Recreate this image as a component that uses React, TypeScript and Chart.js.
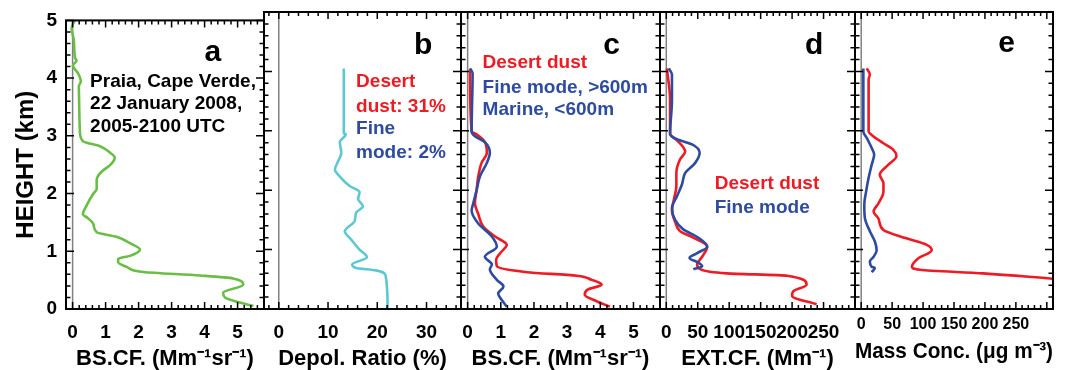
import React, { useEffect, useRef } from 'react';
import { Chart, registerables } from 'chart.js';

Chart.register(...registerables);

const W = 1067;
const H = 370;
const TOP = 12;
const BOTTOM = 309;
const FONT = '"Liberation Sans", Arial, Helvetica, sans-serif';

const RED = '#ed1c24';
const BLUE = '#2e4ba0';
const GREEN = '#6abe45';
const CYAN = '#5ec8d2';

// ---------- data ----------
// heights (km) and values, read top to bottom
const heightTicks = [0, 1, 2, 3, 4, 5];

// panel a: backscatter coefficient (Mm-1 sr-1)
const aHeight = [5.0, 4.87, 4.64, 4.36, 4.3, 4.22, 4.08, 3.94, 3.86, 3.52, 3.08, 2.91, 2.82, 2.71, 2.62, 2.52, 2.35, 2.24, 2.08, 2.0, 1.8, 1.64, 1.58, 1.47, 1.33, 1.25, 1.14, 1.03, 0.92, 0.87, 0.81, 0.73, 0.64, 0.58, 0.53, 0.42, 0.28, 0.2, 0.05];
const aBackscatter = [0.07, -0.03, 0.04, 0.07, 0.12, 0.01, 0.17, 0.25, 0.19, 0.2, 0.22, 0.31, 0.83, 1.13, 1.28, 1.18, 0.83, 0.73, 0.73, 0.63, 0.43, 0.31, 0.45, 0.63, 0.73, 1.33, 1.74, 2.04, 1.74, 1.38, 1.38, 1.64, 2.14, 3.86, 4.86, 5.17, 4.56, 4.62, 5.48];
const aTicks = [0, 1, 2, 3, 4, 5];

// panel b: depolarization ratio (%)
const bHeight = [4.05, 2.96, 2.94, 2.81, 2.63, 2.46, 2.35, 2.23, 2.07, 1.97, 1.85, 1.73, 1.62, 1.48, 1.31, 1.17, 1.0, 0.87, 0.75, 0.69, 0.65, 0.56, 0.02];
const bDepol = [13.2, 13.2, 13.6, 12.4, 12.7, 11.9, 11.4, 12.4, 14.4, 16.4, 16.1, 17.1, 15.7, 15.4, 13.4, 14.7, 16.4, 17.9, 14.9, 15.7, 19.7, 21.7, 22.1];
const bTicks = [0, 10, 20, 30];

// panel c: backscatter split
const cDustHeight = [4.03, 2.99, 2.94, 2.81, 2.63, 2.46, 2.23, 2.0, 1.78, 1.6, 1.39, 1.22, 1.08, 0.94, 0.83, 0.72, 0.62, 0.56, 0.49, 0.41, 0.33, 0.24, 0.13, 0.04];
const cDust = [0.07, 0.12, 0.27, 0.52, 0.58, 0.42, 0.32, 0.27, 0.22, 0.32, 0.47, 0.83, 1.18, 0.98, 0.86, 0.88, 1.78, 3.29, 3.74, 4.04, 3.63, 3.53, 3.89, 4.29];
const cFineHeight = [4.05, 3.97, 2.99, 2.91, 2.81, 2.63, 2.46, 2.23, 2.0, 1.78, 1.66, 1.44, 1.22, 1.05, 0.88, 0.75, 0.67, 0.49, 0.38, 0.26, 0.15, 0.04];
const cFine = [0.07, 0.15, 0.12, 0.22, 0.52, 0.67, 0.58, 0.37, 0.27, 0.17, 0.12, 0.32, 0.73, 0.88, 0.52, 0.73, 0.67, 0.88, 1.08, 0.92, 1.03, 1.18];
const cTicks = [0, 1, 2, 3, 4, 5];

// panel d: extinction coefficient (Mm-1)
const dDustHeight = [4.05, 3.52, 2.95, 2.84, 2.65, 2.52, 2.29, 2.07, 1.84, 1.66, 1.47, 1.31, 1.2, 1.05, 0.88, 0.75, 0.67, 0.6, 0.56, 0.41, 0.3, 0.22, 0.08];
const dDust = [1, 6, 6, 17, 30, 22, 16, 16, 12, 9, 14, 22, 43, 65, 57, 49, 54, 96, 192, 223, 202, 200, 239];
const dFineHeight = [4.05, 3.95, 3.52, 2.95, 2.87, 2.77, 2.63, 2.46, 2.29, 2.1, 1.9, 1.7, 1.5, 1.34, 1.2, 1.05, 0.94, 0.86, 0.78, 0.72, 0.67];
const dFine = [4, 9, 9, 6, 14, 41, 53, 46, 30, 25, 17, 9, 14, 27, 51, 65, 49, 37, 51, 57, 43];
const dTicks = [0, 50, 100, 150, 200, 250];

// panel e: mass concentration (ug m-3)
const eDustHeight = [4.05, 3.95, 3.86, 2.99, 2.93, 2.79, 2.68, 2.57, 2.43, 2.26, 2.12, 1.98, 1.78, 1.64, 1.52, 1.33, 1.19, 1.08, 0.99, 0.85, 0.71, 0.66, 0.6, 0.51, 0.47];
const eDust = [9, 14, 12, 12, 17, 36, 52, 57, 44, 30, 36, 36, 28, 20, 28, 36, 73, 106, 114, 92, 82, 95, 197, 309, 360];
const eFineHeight = [4.05, 2.99, 2.88, 2.71, 2.6, 2.43, 2.21, 1.98, 1.76, 1.53, 1.31, 1.14, 0.99, 0.88, 0.8, 0.71, 0.69, 0.62];
const eFine = [3.5, 3.5, 9, 17, 21, 17, 12, 8, 5, 6, 14, 22, 25, 20, 14, 17, 22, 17];
const eTicks = [0, 50, 100, 150, 200, 250];

// ---------- layout / styles ----------
type Series = { h: number[]; v: number[]; color: string };
type Note = { text: string; x: number; y: number; color: string; size: number; align: CanvasTextAlign };
type Panel = {
  left: number; right: number; xMin: number; xMax: number; xTicks: number[];
  minor: number; major: number; title: string; tickSize: number; tickPad: number;
  titlePad: number; showY: boolean; series: Series[]; notes: Note[];
};

const letter = (t: string, x: number, y: number): Note => ({ text: t, x, y, color: '#000', size: 30, align: 'center' });
const note = (t: string, x: number, y: number, color: string): Note => ({ text: t, x, y, color, size: 19, align: 'left' });

const PANELS: Panel[] = [
  {
    left: 66, right: 264, xMin: -0.2, xMax: 5.8, xTicks: aTicks, minor: 0.2, major: 1,
    title: 'BS.CF. (Mm\u207B\u00B9sr\u207B\u00B9)', tickSize: 19, tickPad: 12, titlePad: 0, showY: true,
    series: [{ h: aHeight, v: aBackscatter, color: GREEN }],
    notes: [
      letter('a', 4.25, 4.44),
      note('Praia, Cape Verde,', 0.53, 3.94, '#000'),
      note('22 January 2008,', 0.53, 3.55, '#000'),
      note('2005-2100 UTC', 0.53, 3.16, '#000'),
    ],
  },
  {
    left: 264, right: 461, xMin: -3, xMax: 37, xTicks: bTicks, minor: 2, major: 10,
    title: 'Depol. Ratio (%)', tickSize: 19, tickPad: 12, titlePad: 0, showY: false,
    series: [{ h: bHeight, v: bDepol, color: CYAN }],
    notes: [
      letter('b', 29.3, 4.44),
      note('Desert', 15.7, 3.82, RED),
      note('dust: 31%', 15.7, 3.41, RED),
      note('Fine', 15.7, 3.03, BLUE),
      note('mode: 2%', 15.7, 2.63, BLUE),
    ],
  },
  {
    left: 461, right: 660, xMin: -0.2, xMax: 5.8, xTicks: cTicks, minor: 0.2, major: 1,
    title: 'BS.CF. (Mm\u207B\u00B9sr\u207B\u00B9)', tickSize: 19, tickPad: 12, titlePad: 0, showY: false,
    series: [{ h: cFineHeight, v: cFine, color: BLUE }, { h: cDustHeight, v: cDust, color: RED }],
    notes: [
      letter('c', 4.34, 4.44),
      note('Desert dust', 0.45, 4.15, RED),
      note('Fine mode, >600m', 0.45, 3.73, BLUE),
      note('Marine, <600m', 0.45, 3.35, BLUE),
    ],
  },
  {
    left: 660, right: 855, xMin: -10, xMax: 300, xTicks: dTicks, minor: 10, major: 50,
    title: 'EXT.CF. (Mm\u207B\u00B9)', tickSize: 19, tickPad: 12, titlePad: 0, showY: false,
    series: [{ h: dFineHeight, v: dFine, color: BLUE }, { h: dDustHeight, v: dDust, color: RED }],
    notes: [
      letter('d', 235, 4.44),
      note('Desert dust', 77, 2.1, RED),
      note('Fine mode', 77, 1.7, BLUE),
    ],
  },
  {
    left: 855, right: 1053, xMin: -10, xMax: 310, xTicks: eTicks, minor: 10, major: 50,
    title: 'Mass Conc. (\u03BCg m\u207B\u00B3)', tickSize: 16, tickPad: 6, titlePad: 7, showY: false,
    series: [{ h: eFineHeight, v: eFine, color: BLUE }, { h: eDustHeight, v: eDust, color: RED }],
    notes: [letter('e', 235, 4.47)],
  },
];

function makeFramePlugin(p: Panel) {
  return {
    id: 'frame',
    beforeDatasetsDraw(chart: any) {
      const { ctx, chartArea, scales } = chart;
      const zx = scales.x.getPixelForValue(0);
      ctx.save();
      ctx.strokeStyle = '#808080';
      ctx.lineWidth = 1.5;
      ctx.beginPath();
      ctx.moveTo(zx, chartArea.top);
      ctx.lineTo(zx, chartArea.bottom);
      ctx.stroke();
      ctx.restore();
    },
    afterDatasetsDraw(chart: any) {
      const { ctx, chartArea, scales } = chart;
      const { left, right, top, bottom } = chartArea;
      ctx.save();
      ctx.strokeStyle = '#000';
      ctx.lineWidth = 1.5;
      ctx.beginPath();
      // y ticks every 0.2 km
      for (let k = 0; k <= 25; k++) {
        const v = k * 0.2;
        const py = scales.y.getPixelForValue(v);
        const len = k % 5 === 0 ? 8 : 4.5;
        ctx.moveTo(left, py); ctx.lineTo(left + len, py);
        ctx.moveTo(right, py); ctx.lineTo(right - len, py);
      }
      const k0 = Math.ceil(p.xMin / p.minor - 1e-9);
      const k1 = Math.floor(p.xMax / p.minor + 1e-9);
      for (let k = k0; k <= k1; k++) {
        const v = k * p.minor;
        const px = scales.x.getPixelForValue(v);
        const r = v / p.major;
        const len = Math.abs(r - Math.round(r)) < 1e-6 ? 7 : 4;
        ctx.moveTo(px, bottom); ctx.lineTo(px, bottom - len);
        ctx.moveTo(px, top); ctx.lineTo(px, top + len);
      }
      ctx.stroke();
      ctx.lineWidth = 2;
      ctx.strokeRect(left, top, right - left, bottom - top);
      ctx.restore();
    },
    afterDraw(chart: any) {
      const { ctx, scales } = chart;
      ctx.save();
      ctx.textBaseline = 'middle';
      for (const n of p.notes) {
        ctx.font = `bold ${n.size}px ${FONT}`;
        ctx.fillStyle = n.color;
        ctx.textAlign = n.align;
        ctx.fillText(n.text, scales.x.getPixelForValue(n.x), scales.y.getPixelForValue(n.y));
      }
      ctx.restore();
    },
  };
}

function PanelChart({ p }: { p: Panel }) {
  const ref = useRef<HTMLCanvasElement>(null);
  useEffect(() => {
    const chart = new Chart(ref.current as HTMLCanvasElement, {
      type: 'line',
      data: {
        datasets: p.series.map((s) => ({
          data: s.h.map((h, i) => ({ x: s.v[i], y: h })),
          borderColor: s.color,
          borderWidth: 2.6,
          pointRadius: 0,
          fill: false,
          cubicInterpolationMode: 'monotone',
          clip: 0,
        })),
      } as any,
      options: {
        responsive: false,
        animation: false,
        events: [],
        indexAxis: 'y',
        layout: { padding: { left: p.showY ? 0 : p.left, right: W - p.right, top: TOP, bottom: 0 } },
        plugins: { legend: { display: false }, tooltip: { enabled: false } },
        scales: {
          x: {
            type: 'linear',
            position: 'bottom',
            min: p.xMin,
            max: p.xMax,
            grid: { display: false, drawTicks: false },
            border: { display: false },
            afterBuildTicks: (s: any) => { s.ticks = p.xTicks.map((v) => ({ value: v })); },
            afterFit: (s: any) => { s.height = H - BOTTOM; },
            ticks: {
              autoSkip: false, maxRotation: 0, minRotation: 0, padding: p.tickPad, color: '#000',
              font: { family: FONT, size: p.tickSize, weight: 'bold' },
            },
            title: {
              display: true, text: p.title, color: '#000',
              font: { family: FONT, size: 22, weight: 'bold', lineHeight: 1 },
              padding: { top: 0, bottom: p.titlePad },
            },
          },
          y: {
            type: 'linear',
            min: 0,
            max: 5,
            display: p.showY,
            grid: { display: false, drawTicks: false },
            border: { display: false },
            afterBuildTicks: (s: any) => { s.ticks = heightTicks.map((v) => ({ value: v })); },
            afterFit: p.showY ? (s: any) => { s.width = p.left; } : undefined,
            ticks: {
              padding: 9, color: '#000',
              font: { family: FONT, size: 19, weight: 'bold' },
            },
            title: {
              display: true, text: 'HEIGHT (km)', color: '#000',
              font: { family: FONT, size: 24, weight: 'bold', lineHeight: 1 },
              padding: { top: 14, bottom: 0 },
            },
          },
        },
      } as any,
      plugins: [makeFramePlugin(p)],
    });
    return () => chart.destroy();
  }, [p]);
  return (
    <canvas
      ref={ref}
      width={W}
      height={H}
      style={{ position: 'absolute', left: 0, top: 0, width: W, height: H }}
    />
  );
}

export default function App() {
  return (
    <div style={{ position: 'absolute', left: 0, top: 0, width: W, height: H, background: '#fff' }}>
      {PANELS.map((p, i) => (
        <PanelChart key={i} p={p} />
      ))}
    </div>
  );
}
